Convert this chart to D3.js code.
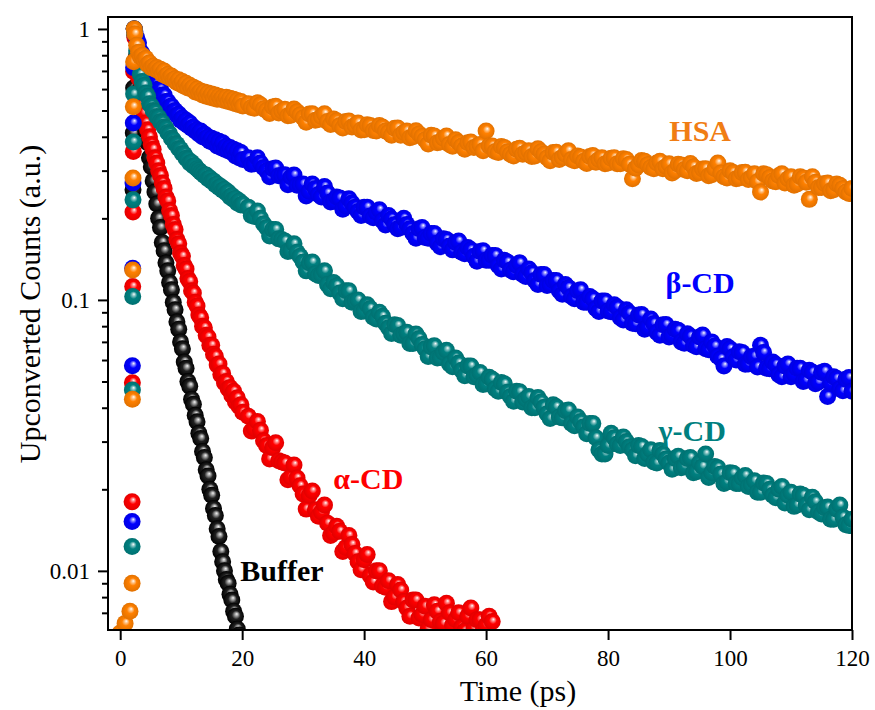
<!DOCTYPE html>
<html>
<head>
<meta charset="utf-8">
<script src="https://cdn.jsdelivr.net/npm/d3@7"></script>
<style>
  body { margin: 0; background: #fff; }
  svg text { font-family: "Liberation Serif", "Times New Roman", serif; }
</style>
</head>
<body>
<svg id="chart" width="875" height="710"></svg>
<script>
// time grids (ps)
const riseTimePs = [0.0, 0.8, 1.6, 1.95, 2.0, 2.05, 2.1, 2.15, 2.2, 2.3];
const timeFinePs = [2.4, 2.7, 3.0, 3.3, 3.6, 3.9, 4.2, 4.5, 4.8, 5.1, 5.4, 5.7, 6.0, 6.3, 6.6, 6.9, 7.2, 7.5, 7.8, 8.1,
  8.4, 8.7, 9.0, 9.3, 9.6, 9.9, 10.2, 10.5, 10.8, 11.1, 11.4, 11.7, 12.0, 12.3, 12.6, 12.9, 13.2, 13.5, 13.8, 14.1,
  14.4, 14.7, 15.0, 15.3, 15.6, 15.9, 16.2, 16.5, 16.8, 17.1, 17.4, 17.7, 18.0, 18.3, 18.6, 18.9, 19.2, 19.5, 19.8, 20.1];
const timeCoarsePs = [21, 22, 23, 24, 25, 26, 27, 28, 29, 30, 31, 32, 33, 34, 35, 36, 37, 38, 39, 40,
  41, 42, 43, 44, 45, 46, 47, 48, 49, 50, 51, 52, 53, 54, 55, 56, 57, 58, 59, 60,
  61, 62, 63, 64, 65, 66, 67, 68, 69, 70, 71, 72, 73, 74, 75, 76, 77, 78, 79, 80,
  81, 82, 83, 84, 85, 86, 87, 88, 89, 90, 91, 92, 93, 94, 95, 96, 97, 98, 99, 100,
  101, 102, 103, 104, 105, 106, 107, 108, 109, 110, 111, 112, 113, 114, 115, 116, 117, 118, 119, 120];
const timeHalfPs = [21.5, 22.5, 23.5, 24.5, 25.5, 26.5, 27.5, 28.5, 29.5, 30.5, 31.5, 32.5, 33.5, 34.5, 35.5, 36.5, 37.5, 38.5, 39.5, 40.5,
  41.5, 42.5, 43.5, 44.5, 45.5, 46.5, 47.5, 48.5, 49.5, 50.5, 51.5, 52.5, 53.5, 54.5, 55.5, 56.5, 57.5, 58.5, 59.5, 60.5,
  61.5, 62.5, 63.5, 64.5, 65.5, 66.5, 67.5, 68.5, 69.5, 70.5, 71.5, 72.5, 73.5, 74.5, 75.5, 76.5, 77.5, 78.5, 79.5, 80.5,
  81.5, 82.5, 83.5, 84.5, 85.5, 86.5, 87.5, 88.5, 89.5, 90.5, 91.5, 92.5, 93.5, 94.5, 95.5, 96.5, 97.5, 98.5, 99.5, 100.5,
  101.5, 102.5, 103.5, 104.5, 105.5, 106.5, 107.5, 108.5, 109.5, 110.5, 111.5, 112.5, 113.5, 114.5, 115.5, 116.5, 117.5, 118.5, 119.5];

// Buffer
const bufferRise = [null, null, null, null, null, null, 0.255, 0.413, 0.606, 1.0];
const bufferFine = [0.95, 0.80, 0.68, 0.60, 0.52, 0.47, 0.42, 0.38, 0.335, 0.31, 0.275, 0.25, 0.226, 0.20, 0.185,
  0.163, 0.152, 0.137, 0.128, 0.116, 0.109, 0.098, 0.092, 0.083, 0.078, 0.070, 0.066, 0.059, 0.056, 0.050,
  0.048, 0.043, 0.0412, 0.0375, 0.0355, 0.0322, 0.0308, 0.0276, 0.0262, 0.0236, 0.0224, 0.0200, 0.0190, 0.0170, 0.0160,
  0.0143, 0.0134, 0.0118, 0.0108, 0.0100, 0.0093, 0.0090, 0.0082, 0.0078, 0.0071, 0.0068, 0.0061, 0.0058];
const bufferCoarse = [];
const bufferHalf = [];

// alpha-CD
const alphaRise = [null, null, null, 0.018, 0.0495, 0.112, 0.211, 0.353, 0.696, 1.0];
const alphaFine = [0.93, 0.76, 0.66, 0.59, 0.53, 0.49, 0.45, 0.425, 0.40, 0.375,
  0.36, 0.335, 0.32, 0.30, 0.288, 0.27, 0.258, 0.24, 0.232, 0.214,
  0.205, 0.19, 0.182, 0.167, 0.161, 0.149, 0.145, 0.134, 0.13, 0.12,
  0.117, 0.108, 0.106, 0.098, 0.095, 0.088, 0.086, 0.080, 0.079, 0.074,
  0.073, 0.068, 0.068, 0.063, 0.062, 0.0575, 0.058, 0.053, 0.0535, 0.0495,
  0.050, 0.047, 0.0475, 0.0445, 0.046, 0.042, 0.0435, 0.0405, 0.041, 0.0385];
const alphaCoarse = [0.0372, 0.0335, 0.0330, 0.0290, 0.0285, 0.0255, 0.0250, 0.0222, 0.0220, 0.0192,
  0.0190, 0.0168, 0.0165, 0.0150, 0.0138, 0.0140, 0.0122, 0.0125, 0.0108, 0.0110,
  0.0096, 0.0100, 0.0088, 0.0092, 0.0080, 0.0085, 0.0073, 0.0078, 0.0067, 0.0074,
  0.0066, 0.0071, 0.0064, 0.0070, 0.0066, 0.0062, 0.0068, 0.0061, 0.0066, 0.0063, 0.0065];
const alphaHalf = [0.0328, 0.0356, 0.0302, 0.0259, 0.0297, 0.0252, 0.0217, 0.0246, 0.0206, 0.0169,
  0.0197, 0.0159, 0.0175, 0.0135, 0.0146, 0.0118, 0.0135, 0.0116, 0.0101, 0.0115,
  0.0091, 0.0100, 0.0087, 0.0077, 0.0089, 0.0077, 0.0068, 0.0078, 0.0069, 0.0061,
  0.0075, 0.0065, 0.0076, 0.0063, 0.0070, 0.0060, 0.0073, 0.0066, 0.0060, 0.0068];

// beta-CD
const betaRise = [null, null, null, 0.0152, 0.0572, 0.131, 0.27, 0.45, 0.72, 1.0];
const betaFine = [0.98, 0.93, 0.89, 0.83, 0.81, 0.77, 0.76, 0.72, 0.71, 0.67,
  0.67, 0.635, 0.63, 0.60, 0.60, 0.57, 0.57, 0.54, 0.54, 0.515,
  0.52, 0.495, 0.50, 0.48, 0.485, 0.46, 0.47, 0.45, 0.46, 0.44,
  0.45, 0.43, 0.435, 0.42, 0.425, 0.41, 0.42, 0.40, 0.41, 0.395,
  0.40, 0.385, 0.395, 0.38, 0.39, 0.37, 0.385, 0.365, 0.38, 0.36,
  0.37, 0.355, 0.365, 0.35, 0.36, 0.34, 0.355, 0.335, 0.35, 0.33];
const betaCoarse = [0.335, 0.318, 0.32, 0.300, 0.305, 0.287, 0.29, 0.284, 0.265, 0.268,
  0.252, 0.258, 0.24, 0.248, 0.232, 0.238, 0.222, 0.228, 0.212, 0.22,
  0.204, 0.21, 0.196, 0.205, 0.19, 0.185, 0.19, 0.176, 0.183, 0.17,
  0.176, 0.162, 0.168, 0.158, 0.163, 0.15, 0.156, 0.145, 0.151, 0.14,
  0.146, 0.134, 0.14, 0.129, 0.134, 0.124, 0.13, 0.118, 0.124, 0.113,
  0.118, 0.108, 0.114, 0.103, 0.108, 0.098, 0.103, 0.093, 0.099, 0.091,
  0.096, 0.086, 0.092, 0.082, 0.088, 0.078, 0.085, 0.076, 0.081, 0.073,
  0.078, 0.07, 0.075, 0.068, 0.073, 0.066, 0.070, 0.062, 0.057, 0.066,
  0.060, 0.064, 0.058, 0.062, 0.068, 0.056, 0.059, 0.053, 0.057, 0.052,
  0.056, 0.050, 0.055, 0.049, 0.054, 0.044, 0.052, 0.047, 0.051, 0.046];
const betaHalf = [0.317, 0.335, 0.308, 0.285, 0.307, 0.288, 0.266, 0.289, 0.266, 0.242,
  0.268, 0.245, 0.262, 0.230, 0.240, 0.216, 0.236, 0.220, 0.205, 0.220,
  0.201, 0.215, 0.189, 0.199, 0.183, 0.200, 0.183, 0.169, 0.185, 0.169,
  0.176, 0.157, 0.167, 0.153, 0.165, 0.148, 0.153, 0.139, 0.152, 0.140,
  0.146, 0.130, 0.138, 0.127, 0.137, 0.122, 0.126, 0.114, 0.124, 0.114,
  0.118, 0.105, 0.111, 0.101, 0.109, 0.098, 0.101, 0.0906, 0.099, 0.0905,
  0.094, 0.0843, 0.0894, 0.0816, 0.0883, 0.0793, 0.0819, 0.074, 0.0811, 0.0741,
  0.0772, 0.0692, 0.0734, 0.0671, 0.0742, 0.0655, 0.0676, 0.0606, 0.0673, 0.0617,
  0.0644, 0.0579, 0.0617, 0.0566, 0.064, 0.0557, 0.0577, 0.052, 0.058, 0.0534,
  0.056, 0.0505, 0.0541, 0.0498, 0.0545, 0.0493, 0.0513, 0.0462, 0.0517];

// gamma-CD
const gammaRise = [null, null, null, 0.0123, 0.0465, 0.103, 0.234, 0.383, 0.575, 1.0];
const gammaFine = [0.96, 0.83, 0.75, 0.68, 0.64, 0.62, 0.58, 0.565, 0.53, 0.52,
  0.50, 0.495, 0.475, 0.472, 0.455, 0.452, 0.435, 0.43, 0.415, 0.41,
  0.395, 0.39, 0.378, 0.375, 0.362, 0.36, 0.347, 0.345, 0.333, 0.33,
  0.32, 0.322, 0.312, 0.313, 0.305, 0.301, 0.296, 0.293, 0.288, 0.289,
  0.28, 0.282, 0.274, 0.275, 0.266, 0.268, 0.26, 0.262, 0.254, 0.256,
  0.248, 0.25, 0.24, 0.243, 0.235, 0.237, 0.228, 0.232, 0.224, 0.226];
const gammaCoarse = [0.22, 0.203, 0.2, 0.185, 0.182, 0.168, 0.165, 0.152, 0.15, 0.138,
  0.137, 0.125, 0.124, 0.114, 0.116, 0.106, 0.108, 0.098, 0.1, 0.091,
  0.093, 0.085, 0.087, 0.079, 0.081, 0.074, 0.076, 0.069, 0.072, 0.066,
  0.067, 0.061, 0.064, 0.058, 0.061, 0.055, 0.057, 0.052, 0.054, 0.049,
  0.051, 0.046, 0.049, 0.044, 0.046, 0.042, 0.044, 0.040, 0.042, 0.038,
  0.041, 0.037, 0.039, 0.035, 0.037, 0.034, 0.035, 0.031, 0.027, 0.029,
  0.031, 0.029, 0.030, 0.028, 0.029, 0.026, 0.028, 0.025, 0.027, 0.025,
  0.026, 0.024, 0.026, 0.023, 0.025, 0.027, 0.023, 0.024, 0.021, 0.023,
  0.021, 0.022, 0.0205, 0.0215, 0.0195, 0.021, 0.019, 0.020, 0.0178, 0.0195,
  0.0175, 0.019, 0.0168, 0.018, 0.0162, 0.0172, 0.0155, 0.0175, 0.0148, 0.0155];
const gammaHalf = [0.205, 0.213, 0.191, 0.172, 0.182, 0.167, 0.151, 0.161, 0.145, 0.128,
  0.138, 0.123, 0.128, 0.110, 0.113, 0.101, 0.108, 0.099, 0.0906, 0.0959,
  0.0863, 0.0901, 0.082, 0.0751, 0.0804, 0.0749, 0.0691, 0.0748, 0.0685, 0.0618,
  0.0677, 0.0613, 0.0652, 0.0567, 0.0585, 0.0525, 0.057, 0.0528, 0.0487, 0.0518,
  0.047, 0.0496, 0.0456, 0.0423, 0.0458, 0.0431, 0.040, 0.0436, 0.0402, 0.0365,
  0.0403, 0.0367, 0.0392, 0.0343, 0.0356, 0.0321, 0.035, 0.028, 0.027, 0.0322,
  0.0294, 0.0312, 0.0287, 0.0266, 0.0288, 0.027, 0.0252, 0.0278, 0.0259, 0.0237,
  0.0265, 0.0243, 0.0262, 0.0232, 0.0243, 0.0221, 0.0243, 0.0228, 0.0213, 0.0229,
  0.021, 0.0225, 0.0208, 0.0195, 0.0211, 0.020, 0.0186, 0.0205, 0.019, 0.0173,
  0.0192, 0.0175, 0.0187, 0.0165, 0.0171, 0.0155, 0.0169, 0.0158, 0.0147];

// HSA
const hsaRise = [0.0059, 0.0064, 0.0071, 0.009, 0.043, 0.129, 0.282, 0.516, 0.757, 1.0];
const hsaFine = [0.96, 0.87, 0.82, 0.79, 0.80, 0.77, 0.78, 0.74, 0.75, 0.72,
  0.73, 0.71, 0.72, 0.70, 0.71, 0.68, 0.70, 0.67, 0.68, 0.66,
  0.67, 0.65, 0.655, 0.635, 0.65, 0.625, 0.64, 0.615, 0.63, 0.605,
  0.62, 0.60, 0.61, 0.585, 0.60, 0.58, 0.59, 0.57, 0.585, 0.565,
  0.58, 0.56, 0.575, 0.555, 0.57, 0.55, 0.565, 0.55, 0.56, 0.545,
  0.56, 0.54, 0.555, 0.535, 0.55, 0.53, 0.545, 0.525, 0.54, 0.52];
const hsaCoarse = [0.53, 0.51, 0.525, 0.50, 0.515, 0.49, 0.505, 0.48, 0.495, 0.47,
  0.485, 0.46, 0.475, 0.455, 0.465, 0.44, 0.455, 0.435, 0.45, 0.425,
  0.44, 0.42, 0.435, 0.415, 0.43, 0.405, 0.42, 0.40, 0.41, 0.39,
  0.405, 0.38, 0.395, 0.375, 0.39, 0.37, 0.38, 0.365, 0.375, 0.42,
  0.37, 0.35, 0.365, 0.345, 0.36, 0.345, 0.355, 0.34, 0.352, 0.335,
  0.35, 0.33, 0.345, 0.33, 0.34, 0.325, 0.338, 0.322, 0.335, 0.32,
  0.335, 0.318, 0.33, 0.28, 0.315, 0.325, 0.308, 0.32, 0.305, 0.318,
  0.30, 0.315, 0.30, 0.31, 0.295, 0.305, 0.29, 0.32, 0.285, 0.30,
  0.28, 0.295, 0.278, 0.292, 0.25, 0.29, 0.275, 0.287, 0.27, 0.285,
  0.268, 0.282, 0.235, 0.272, 0.26, 0.27, 0.255, 0.265, 0.25, 0.258];
const hsaHalf = [0.513, 0.534, 0.508, 0.488, 0.518, 0.498, 0.478, 0.506, 0.482, 0.453,
  0.486, 0.463, 0.486, 0.444, 0.458, 0.431, 0.457, 0.441, 0.424, 0.443,
  0.422, 0.440, 0.420, 0.405, 0.431, 0.415, 0.397, 0.421, 0.401, 0.376,
  0.403, 0.383, 0.403, 0.369, 0.381, 0.360, 0.383, 0.369, 0.355, 0.370,
  0.353, 0.368, 0.352, 0.340, 0.363, 0.350, 0.338, 0.361, 0.345, 0.326,
  0.351, 0.336, 0.355, 0.326, 0.337, 0.319, 0.341, 0.330, 0.318, 0.333,
  0.318, 0.332, 0.317, 0.306, 0.327, 0.316, 0.305, 0.325, 0.311, 0.294,
  0.317, 0.303, 0.319, 0.293, 0.304, 0.287, 0.305, 0.294, 0.282, 0.295,
  0.282, 0.296, 0.283, 0.273, 0.292, 0.283, 0.273, 0.292, 0.280, 0.265,
  0.285, 0.272, 0.285, 0.260, 0.269, 0.253, 0.268, 0.258, 0.247];

const seriesNames = ["Buffer", "α-CD", "β-CD", "γ-CD", "HSA"];
const seriesColors = ["#000000", "#ff0000", "#0000ff", "#008080", "#ff8000"];
const labelColors = ["#000000", "#ff0000", "#0000ff", "#008080", "#f07d14"];
const labelTimePs = [19.7, 40.7, 95.1, 93.8, 95.1];
const labelValue = [0.0092, 0.0201, 0.106, 0.0302, 0.386];
const labelAnchor = ["start", "middle", "middle", "middle", "middle"];

const xTicks = [0, 20, 40, 60, 80, 100, 120];
const yMajorTicks = [0.01, 0.1, 1];
const yMinorTicks = [0.007, 0.008, 0.009, 0.02, 0.03, 0.04, 0.05, 0.06, 0.07, 0.08, 0.09,
  0.2, 0.3, 0.4, 0.5, 0.6, 0.7, 0.8, 0.9];

const riseSets = [bufferRise, alphaRise, betaRise, gammaRise, hsaRise];
const fineSets = [bufferFine, alphaFine, betaFine, gammaFine, hsaFine];
const coarseSets = [bufferCoarse, alphaCoarse, betaCoarse, gammaCoarse, hsaCoarse];
const halfSets = [bufferHalf, alphaHalf, betaHalf, gammaHalf, hsaHalf];

const margin = {top: 17, right: 23, bottom: 80, left: 108},
  width = 875 - margin.left - margin.right,
  height = 710 - margin.top - margin.bottom;

const svg = d3.select("#chart");
const g = svg.append("g").attr("transform", `translate(${margin.left},${margin.top})`);

const xScale = d3.scaleLinear().domain([-2, 120]).range([0, width]);
const yScale = d3.scaleLog().domain([0.00605, 1.107]).range([height, 0]);

function toPoints(times, values) {
  return values.map((v, i) => ({t: times[i], v: v})).filter(d => d.v != null);
}

const series = seriesNames.map((name, i) => ({
  name: name,
  color: seriesColors[i],
  points: toPoints(riseTimePs, riseSets[i])
    .concat(toPoints(timeFinePs, fineSets[i]))
    .concat(toPoints(timeCoarsePs, coarseSets[i]))
    .concat(toPoints(timeHalfPs, halfSets[i]))
    .sort((a, b) => a.t - b.t)
}));

const defs = svg.append("defs");
defs.append("clipPath").attr("id", "plotClip")
  .append("rect").attr("width", width).attr("height", height);

series.forEach((s, i) => {
  const base = d3.color(s.color);
  const isBlack = s.color === "#000000";
  const stops = isBlack
    ? [[0, "#f4f4f4"], [0.2, "#a0a0a0"], [0.5, "#202020"], [1, "#000"]]
    : [[0, "#ffffff"], [0.18, d3.interpolateRgb(s.color, "#fff")(0.55)], [0.45, s.color], [1, base.darker(0.35).formatHex()]];
  const grad = defs.append("radialGradient").attr("id", "ball" + i)
    .attr("cx", "50%").attr("cy", "50%").attr("r", "50%")
    .attr("fx", "58%").attr("fy", "36%");
  stops.forEach(st => grad.append("stop").attr("offset", st[0]).attr("stop-color", st[1]));
});

// markers
const plot = g.append("g").attr("clip-path", "url(#plotClip)");
series.forEach((s, i) => {
  plot.append("g").attr("class", "series")
    .selectAll("circle")
    .data(s.points)
    .enter().append("circle")
      .attr("cx", d => xScale(d.t))
      .attr("cy", d => yScale(d.v))
      .attr("r", 8.5)
      .attr("fill", `url(#ball${i})`);
});

// axes
const xAxis = g.append("g")
  .attr("transform", `translate(0,${height})`)
  .call(d3.axisBottom(xScale).tickValues(xTicks).tickSize(10).tickSizeOuter(0).tickPadding(10));

const yAxis = g.append("g")
  .call(d3.axisLeft(yScale).tickValues(yMajorTicks).tickSize(10).tickSizeOuter(0).tickPadding(8)
    .tickFormat(d => d === 1 ? "1" : d === 0.1 ? "0.1" : "0.01"));

const yMinor = g.append("g")
  .call(d3.axisLeft(yScale).tickValues(yMinorTicks).tickSize(6).tickSizeOuter(0).tickFormat(""));

[xAxis, yAxis, yMinor].forEach(a => {
  a.select(".domain").remove();
  a.selectAll("line").attr("stroke", "#000").attr("stroke-width", 2);
  a.selectAll("text").attr("font-size", 23).attr("fill", "#000")
    .style("font-family", '"Liberation Serif", "Times New Roman", serif');
});

g.append("rect")
  .attr("width", width).attr("height", height)
  .attr("fill", "none").attr("stroke", "#000").attr("stroke-width", 2);

// curve labels
g.selectAll(".curve-label")
  .data(seriesNames)
  .enter().append("text")
    .attr("class", "curve-label")
    .attr("x", (d, i) => xScale(labelTimePs[i]))
    .attr("y", (d, i) => yScale(labelValue[i]))
    .attr("text-anchor", (d, i) => labelAnchor[i])
    .attr("font-size", 30)
    .attr("font-weight", "bold")
    .attr("fill", (d, i) => labelColors[i])
    .text(d => d);

// axis titles
svg.append("text")
  .attr("x", 518).attr("y", 701)
  .attr("text-anchor", "middle")
  .attr("font-size", 30)
  .text("Time (ps)");

svg.append("text")
  .attr("transform", "translate(40,304) rotate(-90)")
  .attr("text-anchor", "middle")
  .attr("font-size", 30)
  .text("Upconverted Counts (a.u.)");
</script>
</body>
</html>
